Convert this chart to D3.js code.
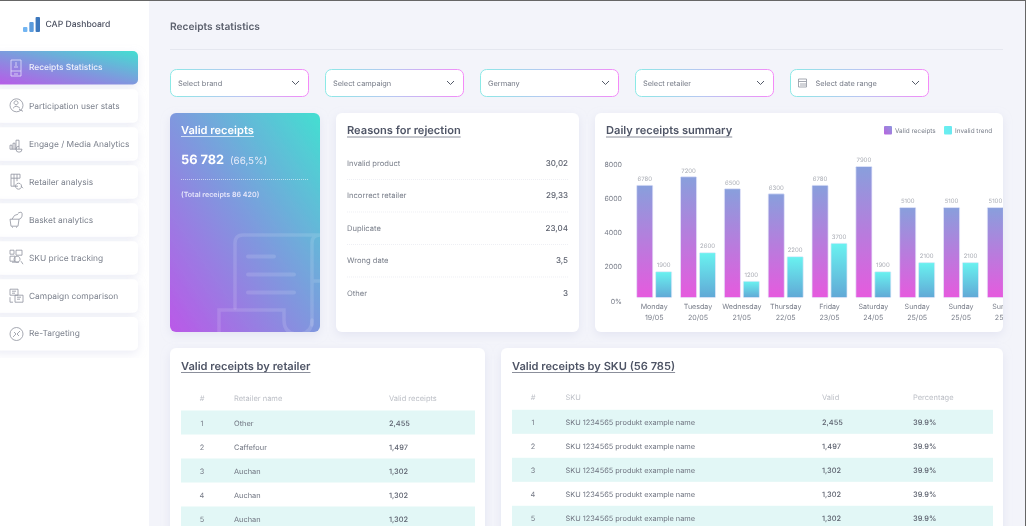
<!DOCTYPE html>
<html>
<head>
<meta charset="utf-8">
<script src="https://cdn.jsdelivr.net/npm/d3@7"></script>
<style>
  html, body { margin: 0; padding: 0; background: #f3f4fa; overflow: hidden; }
  /* the reference is a soft, upscaled screenshot */
  svg { display: block; font-family: "Inter", "Noto Sans", sans-serif; text-rendering: geometricPrecision; filter: blur(0.35px); }
</style>
</head>
<body>
<svg id="page" width="1026" height="526"></svg>
<script>
// sidebar and filters
var navItems = ["Receipts Statistics", "Participation user stats", "Engage / Media Analytics", "Retailer analysis",
    "Basket analytics", "SKU price tracking", "Campaign comparison", "Re-Targeting"]
var filters = ["Select brand", "Select campaign", "Germany", "Select retailer", "Select date range"]

// reasons for rejection
var reasons = ["Invalid product", "Incorrect retailer", "Duplicate", "Wrong date", "Other"]
var reasonValues = ["30,02", "29,33", "23,04", "3,5", "3"]

// daily receipts chart
var days = ["Monday", "Tuesday", "Wednesday", "Thursday", "Friday", "Saturday", "Sunday", "Sunday", "Sunday"]
var dates = ["19/05", "20/05", "21/05", "22/05", "23/05", "24/05", "25/05", "25/05", "25/05"]
var validHeights = [6800, 7300, 6600, 6300, 6800, 7900, 5500, 5500, 5500]
var invalidHeights = [1750, 2860, 1190, 2630, 3410, 1750, 2280, 2280, 2280]
var validLabels = [6780, 7200, 6500, 6300, 6780, 7900, 5100, 5100, 5100]
var invalidLabels = [1900, 2600, 1200, 2200, 3700, 1900, 2100, 2100, 2100]
var yTicks = [0, 2000, 4000, 6000, 8000]

// tables
var retailerNames = ["Other", "Caffefour", "Auchan", "Auchan", "Auchan"]
var retailerValid = ["2,455", "1,497", "1,302", "1,302", "1,302"]
var skuNames = ["SKU 1234565 produkt example name", "SKU 1234565 produkt example name", "SKU 1234565 produkt example name",
    "SKU 1234565 produkt example name", "SKU 1234565 produkt example name"]
var skuValid = ["2,455", "1,497", "1,302", "1,302", "1,302"]
var skuPercent = ["39.9%", "39.9%", "39.9%", "39.9%", "39.9%"]

var svg = d3.select("#page")
var defs = svg.append("defs")

function gradient(id, x1, y1, x2, y2, stops) {
    var g = defs.append("linearGradient").attr("id", id)
        .attr("x1", x1).attr("y1", y1).attr("x2", x2).attr("y2", y2)
    stops.forEach(function(s, i) {
        g.append("stop").attr("offset", i / (stops.length - 1)).attr("stop-color", s)
    })
}
gradient("hero", 0, 1, 1, 0, ["#bb58e8", "#7f98de", "#43dfd1"])
gradient("selectBorder", 0, 0, 1, 0, ["#8be9e6", "#b9c6f2", "#f48af8"])
gradient("validBar", 0, 0, 0, 1, ["#889fdc", "#e65ade"])
gradient("invalidBar", 0, 0, 0, 1, ["#69f2f0", "#61a8d6"])
gradient("swatchValid", 0, 1, 1, 0, ["#bb62de", "#8c96de"])
gradient("swatchInvalid", 0, 0, 1, 0, ["#69f0f0", "#69e8f0"])

var shadow = defs.append("filter").attr("id", "shadow")
    .attr("x", "-20%").attr("y", "-20%").attr("width", "140%").attr("height", "140%")
shadow.append("feDropShadow").attr("dx", 0).attr("dy", 3).attr("stdDeviation", 5)
    .attr("flood-color", "#b9bedc").attr("flood-opacity", 0.28)

defs.append("clipPath").attr("id", "heroClip").append("rect")
    .attr("x", 170).attr("y", 113).attr("width", 150).attr("height", 219).attr("rx", 6)
defs.append("clipPath").attr("id", "chartClip").append("rect")
    .attr("x", 595).attr("y", 113).attr("width", 408).attr("height", 219)

function label(parent, x, y, str, size, color, weight, anchor) {
    return parent.append("text")
        .attr("x", x).attr("y", y).attr("dy", "0.35em")
        .attr("font-size", size).attr("fill", color)
        .attr("font-weight", weight || 400)
        .attr("text-anchor", anchor || "start")
        .text(str)
}

function card(x, y, w, h) {
    svg.append("rect").attr("x", x).attr("y", y).attr("width", w).attr("height", h)
        .attr("rx", 6).attr("fill", "#fff").attr("filter", "url(#shadow)")
}

function cardTitle(x, y, str) {
    var t = label(svg, x, y, str, 11.1, "#4f5566", 600)
    var w = t.node().getComputedTextLength()
    svg.append("line").attr("x1", x).attr("x2", x + w).attr("y1", y + 6.5).attr("y2", y + 6.5)
        .attr("stroke", "#6d7282").attr("stroke-width", 0.8)
}

// page frame
svg.append("rect").attr("width", 1026).attr("height", 526).attr("fill", "#f3f4fa")
svg.append("rect").attr("width", 149).attr("height", 526).attr("fill", "#fff")
svg.append("rect").attr("width", 1026).attr("height", 1).attr("fill", "#666")
svg.append("rect").attr("x", 1025).attr("width", 1).attr("height", 526).attr("fill", "#666")

// logo
var logoScale = d3.scaleBand().domain([0, 1, 2]).range([23, 40]).paddingInner(0.3)
var logoHeights = [5, 10, 15]
svg.selectAll(".logo").data(logoHeights).join("rect")
    .attr("x", function(d, i) { return logoScale(i) })
    .attr("y", function(d) { return 32 - d })
    .attr("width", logoScale.bandwidth())
    .attr("height", function(d) { return d })
    .attr("rx", 1)
    .attr("fill", function(d, i) { return ["#72b5f2", "#5b9bdc", "#3d78bd"][i] })
label(svg, 45.5, 24.2, "CAP Dashboard", 8.6, "#4b5060", 500)

// sidebar
var navTops = [51, 89.3, 127.2, 165.2, 203.2, 241.2, 279.2, 317]
var nav = svg.selectAll(".nav").data(navItems).join("g")
    .attr("transform", function(d, i) { return "translate(0," + navTops[i] + ")" })
nav.append("rect")
    .attr("x", -8).attr("width", 146).attr("height", 33.5).attr("rx", 5)
    .attr("fill", function(d, i) { return i == 0 ? "url(#hero)" : "#fff" })
    .attr("filter", "url(#shadow)")
nav.append("text")
    .attr("x", 29).attr("y", 16.4).attr("dy", "0.35em").attr("font-size", 8.4)
    .attr("font-weight", function(d, i) { return i == 0 ? 500 : 400 })
    .attr("fill", function(d, i) { return i == 0 ? "#eef0fb" : "#7b808c" })
    .text(function(d) { return d })

// small line icons for the sidebar, one per item
var navIcons = [
    "M11,9h10v16h-10z M11,20h10 M14,23h4 M16,11v4 M14,16h4",
    "M10,16a6.5,6.5 0 1,0 13,0a6.5,6.5 0 1,0 -13,0 M13,19q3,-4 7,0 M16,11.5a2,2 0 1,0 .1,0 M19,20l4,2",
    "M10,22v-4h2v4 M13,22v-6h2v6 M16,22v-9h3v9 M19,19a3,3 0 1,0 3,3 M10,22h12",
    "M11,9h9v4h-9z M11,13v8h7 M14,9v12 M17,9v7 M18.5,18a3,3 0 1,0 .1,0 M21,21l2,2",
    "M10,16h9l-1,7h-7z M12,16q2,-5 6,-5 M18,10q5,-3 4,3q-1,3 -3,3 M12,24h1 M16,24h1",
    "M10,9h4v4h-4z M16,9h6v5h-6z M10,15h5v5h-5z M17,15a3,3 0 1,0 .1,0 M12,21h7 M21,20l2,3",
    "M10,10h8v6h-8z M15,16h8v7h-8z M12,12h4 M12,14h3 M17,18h4 M17,20h3 M10,18v5h3",
    "M10,17a6.5,6.5 0 1,0 13,0a6.5,6.5 0 1,0 -13,0 M13,20l3,-3l-2,-2 M20,14l-3,3l2,2"
]
nav.append("path")
    .attr("d", function(d, i) { return navIcons[i] })
    .attr("fill", "none")
    .attr("stroke", function(d, i) { return i == 0 ? "#e4e1fa" : "#8f939e" })
    .attr("stroke-width", 0.8)

// filter row
var selectX = d3.scalePoint().domain(d3.range(filters.length)).range([170, 790])
var selects = svg.selectAll(".select").data(filters).join("g")
    .attr("transform", function(d, i) { return "translate(" + selectX(i) + ",69)" })
selects.append("rect")
    .attr("x", 0.5).attr("y", 0.5).attr("width", 138).attr("height", 27).attr("rx", 6)
    .attr("fill", "#fff").attr("stroke", "url(#selectBorder)")
selects.append("text")
    .attr("x", function(d, i) { return i == 4 ? 25.5 : 8 }).attr("y", 14).attr("dy", "0.35em")
    .attr("font-size", 7.4).attr("fill", "#757a86")
    .text(function(d) { return d })
selects.append("path")
    .attr("d", "M122,12l3.5,3.5l3.5,-3.5").attr("fill", "none").attr("stroke", "#555b69").attr("stroke-width", 1)
selects.filter(function(d, i) { return i == 4 }).append("path")
    .attr("d", "M8.5,10h8v8h-8z M8.5,12.5h8 M11,14v3 M13,14v3 M15,14v3")
    .attr("fill", "none").attr("stroke", "#9a9ea8").attr("stroke-width", 0.9)

// page heading
label(svg, 170, 26.3, "Receipts statistics", 10.2, "#5c616e", 600)
svg.append("line").attr("x1", 170).attr("x2", 1003).attr("y1", 49.5).attr("y2", 49.5)
    .attr("stroke", "#e5e7ef")

// valid receipts card
svg.append("rect").attr("x", 170).attr("y", 113).attr("width", 150).attr("height", 219)
    .attr("rx", 6).attr("fill", "url(#hero)").attr("filter", "url(#shadow)")
var receipt = svg.append("g").attr("clip-path", "url(#heroClip)")
    .attr("fill", "none").attr("stroke", "#fff").attr("stroke-opacity", 0.13).attr("stroke-linecap", "round")
receipt.append("path").attr("stroke-width", 3.5)
    .attr("d", "M235,308V243q0,-8 8,-8H325 M312,325V243q0,-8 8,-8 M312,281H325")
receipt.append("path").attr("stroke-width", 3.5)
    .attr("d", "M219,340V310H284V320q0,14 14,14q14,0 14,-14")
receipt.append("path").attr("stroke-width", 4)
    .attr("d", "M248,256.5H274 M248,274.5H294 M248,292.5H294")

label(svg, 181, 130, "Valid receipts", 11.1, "#fff", 600)
svg.append("line").attr("x1", 181).attr("x2", 254).attr("y1", 136.5).attr("y2", 136.5)
    .attr("stroke", "#e8f2fb").attr("stroke-width", 0.8)
label(svg, 181, 160, "56 782", 12.8, "#fff", 700)
label(svg, 230, 160.5, "(66,5%)", 9.8, "#e6ebfa", 400)
svg.append("line").attr("x1", 181).attr("x2", 309).attr("y1", 179.5).attr("y2", 179.5)
    .attr("stroke", "#fff").attr("stroke-opacity", 0.55).attr("stroke-dasharray", "1 1")
label(svg, 181, 195, "(Total receipts 86 420)", 7.1, "#e6e6fa", 600)

// reasons for rejection card
card(336, 113, 243, 219)
cardTitle(347, 130.5, "Reasons for rejection")
var reasonY = d3.scalePoint().domain(d3.range(reasons.length)).range([163, 293])
svg.selectAll(".reason").data(reasons).join("text")
    .attr("x", 347).attr("y", function(d, i) { return reasonY(i) }).attr("dy", "0.35em")
    .attr("font-size", 7.6).attr("fill", "#7b808c")
    .text(function(d) { return d })
svg.selectAll(".reasonValue").data(reasonValues).join("text")
    .attr("x", 568).attr("y", function(d, i) { return reasonY(i) }).attr("dy", "0.35em")
    .attr("text-anchor", "end").attr("font-size", 8).attr("font-weight", 500).attr("fill", "#5c616e")
    .text(function(d) { return d })
svg.selectAll(".reasonRule").data(reasons.slice(0, 4)).join("line")
    .attr("x1", 347).attr("x2", 568)
    .attr("y1", function(d, i) { return reasonY(i) + 16.5 })
    .attr("y2", function(d, i) { return reasonY(i) + 16.5 })
    .attr("stroke", "#e6e8ef").attr("stroke-width", 0.7).attr("stroke-dasharray", "1 1")

// daily receipts chart
card(595, 113, 408, 219)
cardTitle(606, 130.5, "Daily receipts summary")

var legendItems = [
    { name: "Valid receipts", x: 884, fill: "url(#swatchValid)" },
    { name: "Invalid trend", x: 944, fill: "url(#swatchInvalid)" }
]
var legend = svg.selectAll(".legend").data(legendItems).join("g")
    .attr("transform", function(d) { return "translate(" + d.x + ",126)" })
legend.append("rect").attr("width", 8).attr("height", 8.5).attr("rx", 1)
    .attr("fill", function(d) { return d.fill })
legend.append("text").attr("x", 11).attr("y", 4.3).attr("dy", "0.35em")
    .attr("font-size", 6.4).attr("fill", "#7b808c")
    .text(function(d) { return d.name })

var y = d3.scaleLinear().domain([0, 8000]).range([301.6, 164.8])
var baseline = y(0) - 4

var step = 43.83
var x = d3.scaleBand().domain(d3.range(days.length))
    .range([636.7, 636.7 + step * days.length - 8.83])
    .paddingInner(8.83 / step).paddingOuter(0)
var xSub = d3.scaleBand().domain(["valid", "invalid"]).range([0, x.bandwidth()]).paddingInner(0.15)

var yAxis = d3.axisLeft(y).tickValues(yTicks).tickSize(0).tickPadding(0)
    .tickFormat(function(d) { return d == 0 ? "0%" : d })
var yG = svg.append("g").attr("transform", "translate(622,-0.7)").call(yAxis)
yG.select(".domain").remove()
yG.selectAll("text").attr("font-size", 7).attr("fill", "#777c88").attr("font-family", "Inter")

var chart = svg.append("g").attr("clip-path", "url(#chartClip)")

function drawSeries(key, heights, labels, fill) {
    var off = xSub(key)
    var g = chart.append("g")
    g.selectAll("rect").data(heights).join("rect")
        .attr("x", function(d, i) { return x(i) + off })
        .attr("y", function(d) { return y(d) })
        .attr("width", xSub.bandwidth())
        .attr("height", function(d) { return baseline - y(d) })
        .attr("rx", 0.8)
        .attr("fill", fill)
        .attr("stroke", "#e6e8fb").attr("stroke-width", 0.7)
    g.selectAll("text").data(labels).join("text")
        .attr("x", function(d, i) { return x(i) + off + xSub.bandwidth() / 2 })
        .attr("y", function(d, i) { return y(heights[i]) - 6.3 })
        .attr("dy", "0.35em").attr("text-anchor", "middle")
        .attr("font-size", 6).attr("fill", "#a9acb4")
        .text(function(d) { return d })
}
drawSeries("valid", validHeights, validLabels, "url(#validBar)")
drawSeries("invalid", invalidHeights, invalidLabels, "url(#invalidBar)")

chart.selectAll(".day").data(days).join("text")
    .attr("x", function(d, i) { return x(i) + x.bandwidth() / 2 }).attr("y", 306.9).attr("dy", "0.35em")
    .attr("text-anchor", "middle").attr("font-size", 7.1).attr("fill", "#777c88")
    .text(function(d) { return d })
chart.selectAll(".date").data(dates).join("text")
    .attr("x", function(d, i) { return x(i) + x.bandwidth() / 2 }).attr("y", 318).attr("dy", "0.35em")
    .attr("text-anchor", "middle").attr("font-size", 7.1).attr("fill", "#777c88")
    .text(function(d) { return d })

// tables
function drawTable(x0, x1, headY, rowTop, colX, headers, cols) {
    var n = cols[0].length
    var rowY = d3.scaleLinear().domain([0, 1]).range([rowTop, rowTop + 24])
    svg.selectAll(".stripe" + x0).data(d3.range(n).filter(function(i) { return i % 2 == 0 })).join("rect")
        .attr("x", x0).attr("width", x1 - x0)
        .attr("y", function(d) { return rowY(d) }).attr("height", 24)
        .attr("fill", "#e2f7f6")
    headers.forEach(function(h, c) {
        label(svg, colX[c], headY, h, 7.5, "#bcbfc6", 400, c == 0 ? "middle" : "start")
    })
    d3.range(n).forEach(function(r) {
        label(svg, colX[0], rowY(r) + 12.5, r + 1, 7.4, "#777c88", 400, "middle")
    })
    cols.forEach(function(col, c) {
        col.forEach(function(v, r) {
            var numeric = c > 0
            label(svg, colX[c + 1], rowY(r) + 12.5, v, 7.4, numeric ? "#5c616e" : "#6f7480", numeric ? 500 : 400)
        })
    })
}

card(170, 348, 315, 190)
cardTitle(181, 366, "Valid receipts by retailer")
drawTable(181, 475, 398.5, 410.5, [202, 234, 389],
    ["#", "Retailer name", "Valid receipts"], [retailerNames, retailerValid])

card(501, 348, 502, 190)
cardTitle(512, 366, "Valid receipts by SKU (56 785)")
drawTable(512, 993, 397.5, 409.8, [533, 565.5, 822, 913],
    ["#", "SKU", "Valid", "Percentage"], [skuNames, skuValid, skuPercent])
</script>
</body>
</html>
